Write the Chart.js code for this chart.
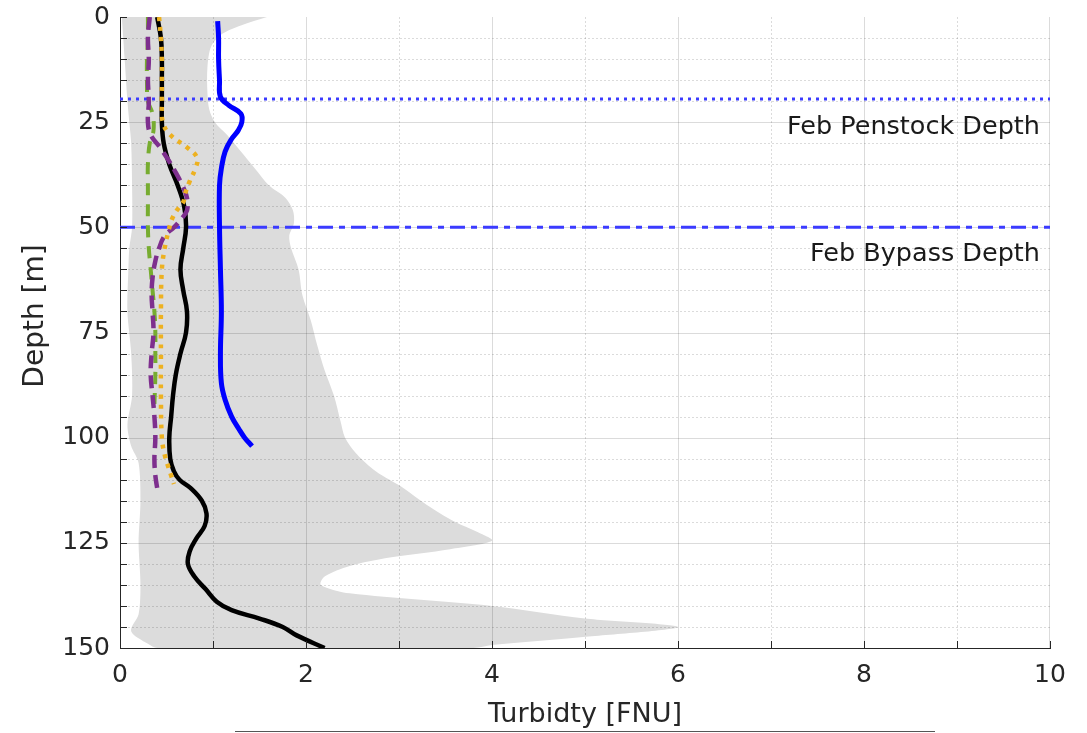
<!DOCTYPE html>
<html>
<head>
<meta charset="utf-8">
<script src="https://cdn.jsdelivr.net/npm/chart.js@4.4.1/dist/chart.umd.min.js"></script>
<style>
  html, body { margin: 0; padding: 0; background: #fff; }
  #wrap { width: 1087px; height: 733px; }
</style>
</head>
<body>
<div id="wrap"><canvas id="myChart" width="1087" height="733"></canvas></div>
<script>
// profile data: depth [m] and turbidity [FNU]
const blackDepth = [0, 5, 10, 15, 20, 25, 30, 35, 40, 45, 50, 55, 60, 65, 70, 75, 80, 85, 90, 95, 100, 105, 108, 110, 112, 115, 118, 121, 124, 127, 130, 133, 136, 139, 141, 143, 145, 147, 150];
const blackVal = [0.40, 0.44, 0.45, 0.45, 0.45, 0.45, 0.47, 0.53, 0.62, 0.69, 0.71, 0.68, 0.65, 0.68, 0.72, 0.71, 0.65, 0.60, 0.57, 0.55, 0.53, 0.54, 0.58, 0.64, 0.76, 0.88, 0.93, 0.91, 0.82, 0.75, 0.73, 0.80, 0.92, 1.04, 1.20, 1.50, 1.75, 1.90, 2.20];

const blueDepth = [1, 5, 10, 15, 19, 21, 23, 25, 27, 29, 32, 36, 40, 50, 60, 70, 80, 87, 91, 95, 98, 100, 102];
const blueVal = [1.05, 1.06, 1.06, 1.07, 1.08, 1.17, 1.30, 1.31, 1.27, 1.20, 1.13, 1.09, 1.07, 1.07, 1.08, 1.09, 1.08, 1.09, 1.13, 1.20, 1.28, 1.34, 1.42];

const orangeDepth = [0, 5, 10, 15, 20, 25, 28, 31, 33.5, 36, 39, 42, 44, 46, 48, 51, 55, 60, 70, 80, 90, 100, 104, 107, 109, 111];
const orangeVal = [0.42, 0.44, 0.45, 0.45, 0.45, 0.46, 0.54, 0.72, 0.83, 0.81, 0.75, 0.70, 0.68, 0.61, 0.56, 0.52, 0.48, 0.45, 0.44, 0.44, 0.44, 0.45, 0.48, 0.52, 0.55, 0.58];

const purpleDepth = [0, 5, 10, 15, 20, 25, 28, 31, 34, 37, 40, 43, 46, 48, 50, 52, 55, 58, 62, 66, 70, 75, 80, 85, 90, 95, 100, 105, 109, 112];
const purpleVal = [0.32, 0.30, 0.31, 0.30, 0.31, 0.30, 0.33, 0.43, 0.52, 0.60, 0.67, 0.72, 0.72, 0.66, 0.58, 0.48, 0.42, 0.38, 0.35, 0.34, 0.35, 0.36, 0.34, 0.33, 0.35, 0.37, 0.38, 0.37, 0.38, 0.40];

const greenDepth = [0, 5, 10, 15, 20, 23, 27, 30, 35, 40, 45, 50, 55, 60, 65, 70, 75, 80, 85, 92];
const greenVal = [0.30, 0.30, 0.29, 0.29, 0.30, 0.35, 0.36, 0.32, 0.30, 0.30, 0.30, 0.30, 0.31, 0.33, 0.35, 0.37, 0.38, 0.38, 0.38, 0.37];

// grey range envelope
const envLowDepth = [0, 10, 20, 25, 30, 40, 50, 55, 60, 70, 80, 90, 97, 102, 106, 115, 125, 135, 142, 146, 149, 150];
const envLowVal = [0.02, 0.05, 0.08, 0.10, 0.12, 0.13, 0.13, 0.10, 0.09, 0.08, 0.12, 0.13, 0.08, 0.12, 0.20, 0.22, 0.20, 0.22, 0.20, 0.12, 0.30, 0.40];
const envHighDepth = [0, 2, 4, 7, 12, 18, 22, 25, 28, 32, 36, 40, 43, 46, 49, 52, 55, 60, 66, 72, 78, 84, 90, 96, 100, 104, 108, 112, 116, 120, 122.5, 124.5, 126.5, 128.5, 130.5, 133, 135, 137, 140, 143, 145, 147.4, 149.3, 150];
const envHighVal = [1.58, 1.30, 1.10, 0.98, 0.94, 0.94, 0.96, 1.02, 1.15, 1.30, 1.45, 1.60, 1.78, 1.86, 1.87, 1.82, 1.84, 1.92, 1.96, 2.05, 2.12, 2.20, 2.30, 2.37, 2.42, 2.55, 2.75, 3.05, 3.30, 3.60, 3.85, 4.00, 3.55, 2.90, 2.47, 2.20, 2.16, 2.47, 4.00, 5.00, 6.00, 4.98, 4.00, 3.80];

const penstockDepth = 19.5;
const bypassDepth = 50;

const xTicks = [0, 2, 4, 6, 8, 10];
const yTicks = [0, 25, 50, 75, 100, 125, 150];

function pts(ds, vs) {
	return ds.map((d, i) => ({ x: vs[i], y: d }));
}

let envPoly = pts(envLowDepth, envLowVal).concat(pts(envHighDepth, envHighVal).reverse());

const fam = "'DejaVu Sans', sans-serif";
const tickFont = { family: fam, size: 25 };
const ink = "#262626";

const matlabGrid = {
	id: "matlabGrid",
	afterDatasetDraw(chart, args) {
		if (args.index !== chart.data.datasets.length - 1) return;
		const ctx = chart.ctx;
		const xs = chart.scales.x, ys = chart.scales.y;
		const a = chart.chartArea;
		ctx.save();
		ctx.lineWidth = 1;
		ctx.strokeStyle = "rgba(0,0,0,0.14)";
		for (let v = 1; v < 10; v++) {
			let px = Math.round(xs.getPixelForValue(v)) + 0.5;
			ctx.setLineDash(v % 2 === 0 ? [] : [2, 2]);
			ctx.beginPath();
			ctx.moveTo(px, a.top);
			ctx.lineTo(px, a.bottom);
			ctx.stroke();
		}
		let px10 = Math.round(xs.getPixelForValue(10)) - 0.5;
		ctx.setLineDash([]);
		ctx.beginPath();
		ctx.moveTo(px10, a.top);
		ctx.lineTo(px10, a.bottom);
		ctx.stroke();
		for (let d = 5; d < 150; d += 5) {
			let py = Math.round(ys.getPixelForValue(d)) + 0.5;
			ctx.setLineDash(d % 25 === 0 ? [] : [2, 2]);
			ctx.beginPath();
			ctx.moveTo(a.left, py);
			ctx.lineTo(a.right, py);
			ctx.stroke();
		}
		ctx.restore();
	},
	afterDraw(chart) {
		const ctx = chart.ctx;
		const xs = chart.scales.x, ys = chart.scales.y;
		const a = chart.chartArea;
		ctx.save();
		// inward ticks
		ctx.strokeStyle = ink;
		ctx.lineWidth = 1;
		for (let d = 0; d <= 150; d += 5) {
			let py = Math.round(ys.getPixelForValue(d)) + 0.5;
			ctx.beginPath();
			ctx.moveTo(a.left, py);
			ctx.lineTo(a.left + 7, py);
			ctx.stroke();
		}
		for (let v = 0; v <= 10; v++) {
			let px = Math.round(xs.getPixelForValue(v)) + 0.5;
			ctx.beginPath();
			ctx.moveTo(px, a.bottom);
			ctx.lineTo(px, a.bottom - 7);
			ctx.stroke();
		}
		// depth labels
		ctx.fillStyle = "#1a1a1a";
		ctx.font = "25.5px " + fam;
		ctx.textAlign = "right";
		ctx.textBaseline = "middle";
		ctx.fillText("Feb Penstock Depth", a.right - 10, ys.getPixelForValue(penstockDepth) + 28);
		ctx.fillText("Feb Bypass Depth", a.right - 10, ys.getPixelForValue(bypassDepth) + 27);
		// y axis title
		ctx.fillStyle = ink;
		ctx.font = "28px " + fam;
		ctx.textAlign = "center";
		ctx.translate(36, 316);
		ctx.rotate(-Math.PI / 2);
		ctx.fillText("Depth [m]", 0, 0);
		ctx.setTransform(1, 0, 0, 1, 0, 0);
		// stray border line at the foot of the figure
		ctx.strokeStyle = "#555";
		ctx.beginPath();
		ctx.moveTo(235, 731.5);
		ctx.lineTo(935, 731.5);
		ctx.stroke();
		ctx.restore();
	},
};

let ctx = document.getElementById("myChart");
let myChart = new Chart(ctx, {
	type: "line",
	data: {
		datasets: [
			{
				label: "orange",
				data: pts(orangeDepth, orangeVal),
				borderColor: "#EDB120",
				borderWidth: 4.5,
				borderDash: [4, 6],
				pointRadius: 0,
				tension: 0.4,
				fill: false,
			},
			{
				label: "purple",
				data: pts(purpleDepth, purpleVal),
				borderColor: "#7E2F8E",
				borderWidth: 4.5,
				borderDash: [13, 7],
				pointRadius: 0,
				tension: 0.4,
				fill: false,
			},
			{
				label: "green",
				data: pts(greenDepth, greenVal),
				borderColor: "#77AC30",
				borderWidth: 4,
				borderDash: [12, 9],
				pointRadius: 0,
				tension: 0.4,
				fill: false,
			},
			{
				label: "black",
				data: pts(blackDepth, blackVal),
				borderColor: "#000000",
				borderWidth: 4.5,
				pointRadius: 0,
				tension: 0.4,
				fill: false,
			},
			{
				label: "blue",
				data: pts(blueDepth, blueVal),
				borderColor: "#0000FF",
				borderWidth: 5,
				pointRadius: 0,
				tension: 0.4,
				fill: false,
			},
			{
				label: "penstock",
				data: [{ x: 0, y: penstockDepth }, { x: 10, y: penstockDepth }],
				borderColor: "#3b3bff",
				borderWidth: 3,
				borderDash: [3, 5],
				pointRadius: 0,
				fill: false,
			},
			{
				label: "bypass",
				data: [{ x: 0, y: bypassDepth }, { x: 10, y: bypassDepth }],
				borderColor: "#3b3bff",
				borderWidth: 3,
				borderDash: [15, 6, 6, 6],
				pointRadius: 0,
				fill: false,
			},
			{
				label: "range",
				data: envPoly,
				borderWidth: 0,
				borderColor: "rgba(0,0,0,0)",
				backgroundColor: "#dcdcdc",
				pointRadius: 0,
				tension: 0.3,
				fill: "shape",
			},
		],
	},
	options: {
		responsive: false,
		animation: false,
		events: [],
		layout: { padding: { left: 0, right: 37, top: 17, bottom: 0 } },
		plugins: {
			legend: { display: false },
			tooltip: { enabled: false },
		},
		scales: {
			x: {
				type: "linear",
				min: 0,
				max: 10,
				afterFit: (s) => {
					s.height = 85;
					s.paddingLeft = 0;
					s.paddingRight = 0;
				},
				afterBuildTicks: (s) => { s.ticks = xTicks.map((v) => ({ value: v })); },
				grid: { display: false, drawTicks: false },
				border: { display: true, color: ink, width: 1 },
				ticks: { color: ink, font: tickFont, padding: 12, maxRotation: 0 },
				title: {
					display: true,
					text: "Turbidty [FNU]",
					color: ink,
					font: { family: fam, size: 27 },
					padding: { top: 0, bottom: 2 },
				},
			},
			y: {
				type: "linear",
				reverse: true,
				min: 0,
				max: 150,
				afterFit: (s) => {
					s.width = 120;
					s.paddingTop = 0;
					s.paddingBottom = 0;
				},
				afterBuildTicks: (s) => { s.ticks = yTicks.map((v) => ({ value: v })); },
				grid: { display: false, drawTicks: false },
				border: { display: true, color: ink, width: 1 },
				ticks: { color: ink, font: tickFont, padding: 10 },
				title: { display: false },
			},
		},
	},
	plugins: [matlabGrid],
});
</script>
</body>
</html>
